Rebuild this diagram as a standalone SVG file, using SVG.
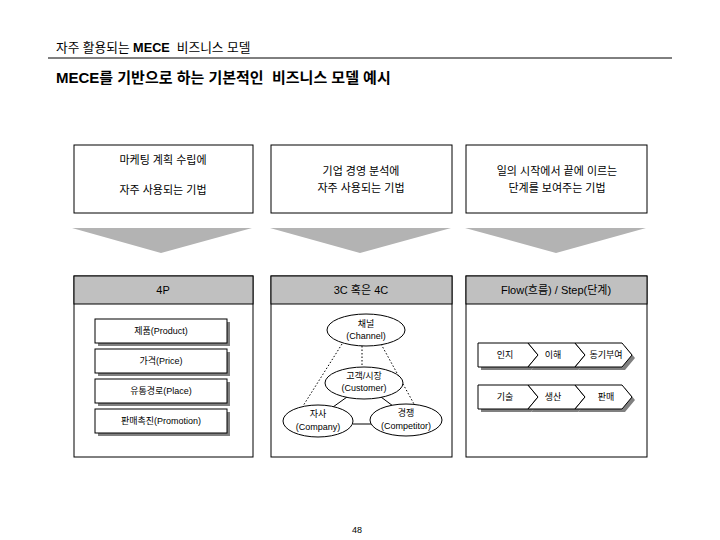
<svg xmlns="http://www.w3.org/2000/svg" width="720" height="540" viewBox="0 0 720 540">
<style>
text{font-family:"Liberation Sans","Noto Sans CJK KR",sans-serif;fill:#000;text-anchor:middle}
.box{fill:#fff;stroke:#000;stroke-width:1}
.hdr{fill:#c0c0c0;stroke:#000;stroke-width:1}
.arrow{fill:#b3b3b3}
.sh{fill:#808080}
.ell{fill:#fff;stroke:#000;stroke-width:1}
.dot{stroke:#000;stroke-width:1;stroke-dasharray:1.5 2;fill:none}
.sol{stroke:#000;stroke-width:1;fill:none}
.t11{font-size:11px}
.t9{font-size:9px}
</style>
<g id="header">
<text x="56" y="52" xml:space="preserve" style="font-size:12.7px;text-anchor:start">자주 활용되는 <tspan font-weight="bold">MECE</tspan>  비즈니스 모델</text>
<line x1="48" y1="58" x2="672" y2="58" stroke="#000" stroke-width="1"/>
<text x="56" y="83" xml:space="preserve" style="font-size:15px;font-weight:bold;text-anchor:start">MECE를 기반으로 하는 기본적인  비즈니스 모델 예시</text>
</g>
<g id="desc1"><rect class="box" x="74" y="145" width="179" height="68"/>
<text class="t11" x="163" y="164">마케팅 계획 수립에</text><text class="t11" x="163" y="194">자주 사용되는 기법</text></g>
<g id="desc2"><rect class="box" x="271" y="145" width="181" height="68"/>
<text class="t11" x="361" y="175">기업 경영 분석에</text><text class="t11" x="361" y="192">자주 사용되는 기법</text></g>
<g id="desc3"><rect class="box" x="466" y="145" width="181" height="68"/>
<text class="t11" x="557" y="175">일의 시작에서 끝에 이르는</text><text class="t11" x="557" y="192">단계를 보여주는 기법</text></g>
<g id="arrows">
<polygon class="arrow" points="72,228 252,228 161,253"/>
<polygon class="arrow" points="270,228 451,228 360,253"/>
<polygon class="arrow" points="465,228 646,228 556,253"/>
</g>
<g id="panel-4p">
<rect class="box" x="74" y="276" width="179" height="181"/>
<rect class="hdr" x="74" y="276" width="179" height="28"/>
<text class="t11" x="163" y="294">4P</text>
<rect class="sh" x="98" y="322" width="132" height="24"/><rect class="box" x="95" y="319" width="132" height="24"/><text class="t9" x="161" y="334">제품(Product)</text>
<rect class="sh" x="98" y="352" width="132" height="24"/><rect class="box" x="95" y="349" width="132" height="24"/><text class="t9" x="161" y="364">가격(Price)</text>
<rect class="sh" x="98" y="382" width="132" height="24"/><rect class="box" x="95" y="379" width="132" height="24"/><text class="t9" x="161" y="394">유통경로(Place)</text>
<rect class="sh" x="98" y="412" width="132" height="24"/><rect class="box" x="95" y="409" width="132" height="24"/><text class="t9" x="161" y="424">판매촉진(Promotion)</text>
</g>
<g id="panel-3c">
<rect class="box" x="271" y="276" width="181" height="181"/>
<rect class="hdr" x="271" y="276" width="181" height="28"/>
<text class="t11" x="361" y="294">3C 혹은 4C</text>
</g>
<g id="connectors">
<line class="dot" x1="362" y1="346" x2="362" y2="367"/>
<line class="dot" x1="342" y1="344" x2="303" y2="406"/>
<line class="dot" x1="381" y1="344" x2="414" y2="404"/>
<line class="sol" x1="347" y1="397" x2="333" y2="407"/>
<line class="sol" x1="381" y1="397" x2="393" y2="406"/>
<line class="sol" x1="353" y1="424" x2="371" y2="424"/>
</g>
<g id="channel"><ellipse class="ell" cx="366" cy="330" rx="39" ry="16"/><text class="t9" x="366" y="327">채널</text><text class="t9" x="366" y="339">(Channel)</text></g>
<g id="customer"><ellipse class="ell" cx="364" cy="383" rx="39" ry="16"/><text class="t9" x="364" y="379">고객/시장</text><text class="t9" x="364" y="391">(Customer)</text></g>
<g id="company"><ellipse class="ell" cx="318" cy="421" rx="35" ry="16"/><text class="t9" x="318" y="417">자사</text><text class="t9" x="318" y="430">(Company)</text></g>
<g id="competitor"><ellipse class="ell" cx="406" cy="420" rx="36" ry="16"/><text class="t9" x="406" y="416">경쟁</text><text class="t9" x="406" y="429">(Competitor)</text></g>
<g id="panel-flow">
<rect class="box" x="466" y="276" width="181" height="181"/>
<rect class="hdr" x="466" y="276" width="181" height="28"/>
<text class="t11" x="556" y="294">Flow(흐름) / Step(단계)</text>
<g id="flow1">
<polygon class="sh" points="481,346 531,346 541,358 531,370 481,370"/>
<polygon class="sh" points="531,346 578,346 588,358 578,370 531,370 541,358"/>
<polygon class="sh" points="578,346 625,346 635,358 625,370 578,370 588,358"/>
<polygon class="box" points="478,343 528,343 538,355 528,367 478,367"/>
<polygon class="box" points="528,343 575,343 585,355 575,367 528,367 538,355"/>
<polygon class="box" points="575,343 622,343 632,355 622,367 575,367 585,355"/>
<text class="t9" x="505" y="358">인지</text><text class="t9" x="553" y="358">이해</text><text class="t9" x="606" y="358">동기부여</text>
</g>
<g id="flow2">
<polygon class="sh" points="481,388 531,388 541,400 531,412 481,412"/>
<polygon class="sh" points="531,388 578,388 588,400 578,412 531,412 541,400"/>
<polygon class="sh" points="578,388 625,388 635,400 625,412 578,412 588,400"/>
<polygon class="box" points="478,385 528,385 538,397 528,409 478,409"/>
<polygon class="box" points="528,385 575,385 585,397 575,409 528,409 538,397"/>
<polygon class="box" points="575,385 622,385 632,397 622,409 575,409 585,397"/>
<text class="t9" x="505" y="400">기술</text><text class="t9" x="553" y="400">생산</text><text class="t9" x="606" y="400">판매</text>
</g>
</g>
<text class="t9" x="357" y="533">48</text>
</svg>
